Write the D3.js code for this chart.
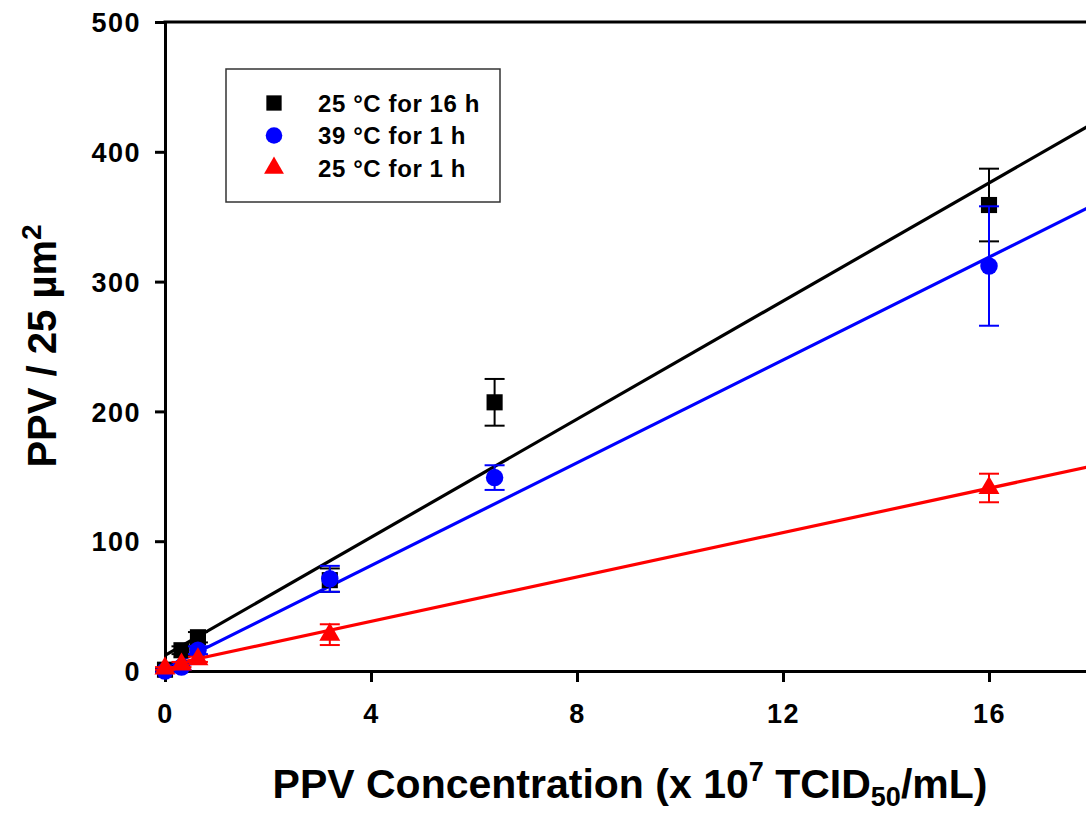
<!DOCTYPE html>
<html>
<head>
<meta charset="UTF-8">
<title>PPV binding</title>
<script src="https://cdn.jsdelivr.net/npm/d3@7"></script>
<style>
    body, html { margin: 0; padding: 0; background: #fff; }
    svg { display: block; font-family: "Liberation Sans", Arial, sans-serif; font-weight: bold; }
</style>
</head>
<body>
<svg id="chart" width="1086" height="813"></svg>
<script>
// data
var concs = [0, 0.32, 0.64, 3.2, 6.4, 16];
var redConcs = [0, 0.32, 0.64, 3.2, 16];
var black16h = [1, 16, 26, 70, 207, 359];
var black16hErr = [1, 3, 4, 9, 18, 28];
var blue39 = [0, 3, 16, 71, 149, 312];
var blue39Err = [1, 2, 3, 10, 9.5, 46];
var red25 = [2, 5, 9, 28, 141];
var red25Err = [1, 2, 2, 8, 11];
// fitted lines: [intercept, slope]
var fitBlack = [12, 22.75];
var fitBlue = [2, 19.8];
var fitRed = [4, 8.55];
var legendLabels = ["25 °C for 16 h", "39 °C for 1 h", "25 °C for 1 h"];
var xTicks = [0, 4, 8, 12, 16];
var yTicks = [0, 100, 200, 300, 400, 500];

var svg = d3.select("#chart");

var x = d3.scaleLinear().domain([0, 18]).range([165, 1092]);
var y = d3.scaleLinear().domain([0, 500]).range([671, 22]);

var series = [
    { name: legendLabels[0], color: "#000000", shape: d3.symbolSquare, size: 260, xs: concs, ys: black16h, err: black16hErr, fit: fitBlack },
    { name: legendLabels[1], color: "#0000ff", shape: d3.symbolCircle, size: 240, xs: concs, ys: blue39, err: blue39Err, fit: fitBlue },
    { name: legendLabels[2], color: "#ff0000", shape: d3.symbolTriangle, size: 190, xs: redConcs, ys: red25, err: red25Err, fit: fitRed }
];

// axes
var xAxis = svg.append("g")
    .attr("transform", "translate(0," + y(0) + ")")
    .call(d3.axisBottom(x).tickValues(xTicks).tickSize(11).tickSizeOuter(0).tickPadding(22));
var yAxis = svg.append("g")
    .attr("transform", "translate(" + x(0) + ",0)")
    .call(d3.axisLeft(y).tickValues(yTicks).tickSize(10).tickSizeOuter(0).tickPadding(14));

[xAxis, yAxis].forEach(function (ax) {
    ax.select(".domain").attr("stroke", "#000").attr("stroke-width", 3);
    ax.selectAll(".tick line").attr("stroke", "#000").attr("stroke-width", 3);
    ax.selectAll(".tick text")
        .attr("fill", "#000")
        .attr("font-size", "27px")
        .attr("font-weight", "bold")
        .attr("letter-spacing", "1.5px")
        .attr("font-family", "Liberation Sans, Arial, sans-serif");
});
yAxis.selectAll(".tick text").attr("dy", "0.36em");

// top frame line
svg.append("line")
    .attr("x1", x(0) - 1.5).attr("x2", x(18))
    .attr("y1", y(500)).attr("y2", y(500))
    .attr("stroke", "#000").attr("stroke-width", 3);

var plot = svg.append("g");

// regression lines
series.forEach(function (s) {
    plot.append("line")
        .attr("x1", x(0)).attr("y1", y(s.fit[0]))
        .attr("x2", x(18)).attr("y2", y(s.fit[0] + s.fit[1] * 18))
        .attr("stroke", s.color)
        .attr("stroke-width", 3.2);
});

// error bars and markers
series.forEach(function (s) {
    var pts = s.xs.map(function (v, i) { return { x: v, y: s.ys[i], e: s.err[i] }; });
    var g = plot.append("g");
    var eb = g.selectAll(".eb").data(pts).enter().append("g")
        .attr("stroke", s.color).attr("stroke-width", 2);
    eb.append("line")
        .attr("x1", function (d) { return x(d.x); })
        .attr("x2", function (d) { return x(d.x); })
        .attr("y1", function (d) { return y(d.y - d.e); })
        .attr("y2", function (d) { return y(d.y + d.e); });
    [-1, 1].forEach(function (sign) {
        eb.append("line")
            .attr("x1", function (d) { return x(d.x) - 10; })
            .attr("x2", function (d) { return x(d.x) + 10; })
            .attr("y1", function (d) { return y(d.y + sign * d.e); })
            .attr("y2", function (d) { return y(d.y + sign * d.e); });
    });
    g.selectAll(".pt").data(pts).enter().append("path")
        .attr("d", d3.symbol().type(s.shape).size(s.size))
        .attr("transform", function (d) { return "translate(" + x(d.x) + "," + y(d.y) + ")"; })
        .attr("fill", s.color);
});

// legend
var legend = svg.append("g");
legend.append("rect")
    .attr("x", 226).attr("y", 69)
    .attr("width", 274).attr("height", 133)
    .attr("fill", "#fff")
    .attr("stroke", "#333")
    .attr("stroke-width", 1.5);
series.forEach(function (s, i) {
    var ly = 103 + i * 32.5;
    legend.append("path")
        .attr("d", d3.symbol().type(s.shape).size(s.size * 0.9))
        .attr("transform", "translate(274," + ly + ")")
        .attr("fill", s.color);
    legend.append("text")
        .attr("x", 318).attr("y", ly)
        .attr("dy", "0.36em")
        .attr("font-size", "24px")
        .attr("letter-spacing", "0.6px")
        .attr("fill", "#000")
        .text(s.name);
});

// axis titles
svg.append("text")
    .attr("transform", "translate(56,346) rotate(-90)")
    .attr("text-anchor", "middle")
    .attr("font-size", "40px")
    .attr("fill", "#000")
    .html('PPV / 25 µm<tspan dy="-15" font-size="28px">2</tspan>');

svg.append("text")
    .attr("x", 630).attr("y", 798)
    .attr("text-anchor", "middle")
    .attr("font-size", "41px")
    .attr("fill", "#000")
    .html('PPV Concentration (x 10<tspan dy="-17" font-size="27px">7</tspan><tspan dy="17"> TCID</tspan><tspan dy="8" font-size="27px">50</tspan><tspan dy="-8">/mL)</tspan>');
</script>
</body>
</html>
